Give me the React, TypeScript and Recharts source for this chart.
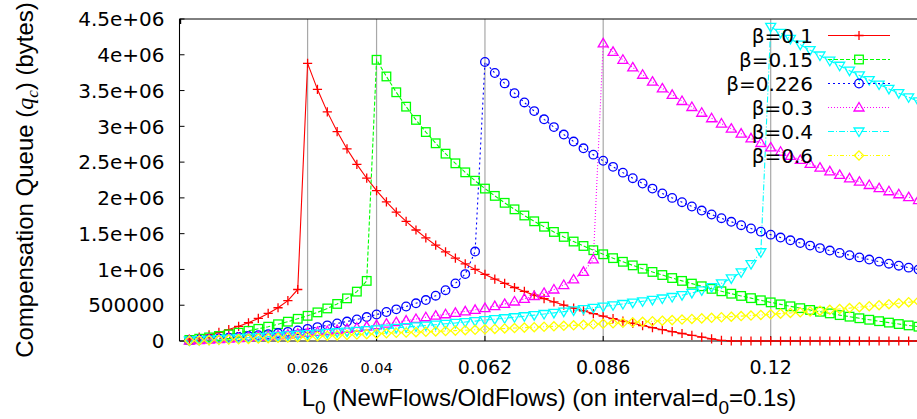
import React from 'react';
import { LineChart, Line, XAxis, YAxis, CartesianGrid, Legend } from 'recharts';

// L0 = new flows / old flows, sampled every 0.002
const loadRatio = [
  0.002, 0.004, 0.006, 0.008, 0.01, 0.012, 0.014, 0.016, 0.018, 0.02,
  0.022, 0.024, 0.026, 0.028, 0.03, 0.032, 0.034, 0.036, 0.038, 0.04,
  0.042, 0.044, 0.046, 0.048, 0.05, 0.052, 0.054, 0.056, 0.058, 0.06,
  0.062, 0.064, 0.066, 0.068, 0.07, 0.072, 0.074, 0.076, 0.078, 0.08,
  0.082, 0.084, 0.086, 0.088, 0.09, 0.092, 0.094, 0.096, 0.098, 0.1,
  0.102, 0.104, 0.106, 0.108, 0.11, 0.112, 0.114, 0.116, 0.118, 0.12,
  0.122, 0.124, 0.126, 0.128, 0.13, 0.132, 0.134, 0.136, 0.138, 0.14,
  0.142, 0.144, 0.146, 0.148, 0.15,
];

// Compensation queue q_c in bytes, one list per beta
const beta010 = [
  28000, 55000, 85000, 120000, 160000, 205000, 255000, 315000, 385000, 465000,
  565000, 720000, 3880000, 3517000, 3202000, 2927000, 2684000, 2468000, 2275000, 2101000,
  1944000, 1801000, 1671000, 1551000, 1441000, 1339000, 1245000, 1158000, 1077000, 1001000,
  930000, 865000, 806000, 748000, 693000, 641000, 592000, 546000, 502000, 460000,
  421000, 383000, 347000, 312000, 279000, 247000, 216000, 187000, 158000, 131000,
  105000, 80000, 55000, 30000, 8000, 0, 0, 0, 0, 0,
  0, 0, 0, 0, 0, 0, 0, 0, 0, 0,
  0, 0, 0, 0, 0,
];

const beta015 = [
  15000, 32000, 50000, 70000, 92000, 116000, 142000, 170000, 200000, 234000,
  270000, 310000, 352000, 400000, 455000, 518000, 596000, 690000, 840000, 3930000,
  3697000, 3476000, 3275000, 3090000, 2920000, 2763000, 2618000, 2483000, 2357000, 2240000,
  2130000, 2028000, 1931000, 1840000, 1754000, 1673000, 1597000, 1524000, 1455000, 1390000,
  1328000, 1269000, 1212000, 1158000, 1107000, 1057000, 1010000, 965000, 922000, 880000,
  840000, 802000, 765000, 729000, 695000, 661000, 630000, 599000, 569000, 540000,
  512000, 485000, 459000, 434000, 409000, 386000, 362000, 340000, 318000, 297000,
  277000, 257000, 237000, 218000, 200000,
];

const beta0226 = [
  8000, 17000, 26000, 36000, 46000, 57000, 69000, 82000, 96000, 111000,
  128000, 148000, 170000, 194000, 219000, 245000, 272000, 302000, 335000, 370000,
  405000, 442000, 482000, 527000, 572000, 633000, 710000, 805000, 935000, 1250000,
  3900000, 3745000, 3600000, 3463000, 3334000, 3213000, 3098000, 2989000, 2885000, 2787000,
  2693000, 2604000, 2519000, 2434000, 2353000, 2275000, 2201000, 2130000, 2063000, 2000000,
  1940000, 1880000, 1823000, 1768000, 1716000, 1666000, 1618000, 1572000, 1528000, 1486000,
  1446000, 1407000, 1369000, 1333000, 1298000, 1264000, 1231000, 1199000, 1168000, 1138000,
  1109000, 1080000, 1052000, 1025000, 999000,
];

const beta030 = [
  6000, 12000, 19000, 26000, 34000, 42000, 51000, 60000, 70000, 80000,
  91000, 102000, 114000, 127000, 140000, 154000, 169000, 185000, 202000, 222000,
  242000, 263000, 285000, 308000, 332000, 354000, 374000, 394000, 414000, 436000,
  459000, 487000, 518000, 552000, 589000, 629000, 672000, 720000, 782000, 860000,
  967000, 1140000, 4160000, 4041000, 3930000, 3823000, 3721000, 3624000, 3530000, 3440000,
  3354000, 3270000, 3190000, 3113000, 3039000, 2967000, 2898000, 2832000, 2767000, 2705000,
  2645000, 2586000, 2530000, 2475000, 2422000, 2371000, 2321000, 2273000, 2226000, 2180000,
  2136000, 2093000, 2051000, 2010000, 1970000,
];

const beta040 = [
  6000, 12000, 18000, 25000, 32000, 39000, 46000, 54000, 62000, 70000,
  78000, 86000, 95000, 104000, 113000, 122000, 132000, 142000, 152000, 162000,
  172000, 183000, 194000, 205000, 216000, 228000, 240000, 252000, 265000, 278000,
  292000, 305000, 318000, 332000, 346000, 361000, 377000, 393000, 410000, 428000,
  446000, 464000, 481000, 499000, 517000, 536000, 555000, 574000, 594000, 615000,
  640000, 672000, 708000, 752000, 806000, 875000, 960000, 1075000, 1240000, 4390000,
  4305000, 4222000, 4142000, 4065000, 3990000, 3917000, 3847000, 3778000, 3712000, 3647000,
  3584000, 3523000, 3464000, 3406000, 3350000,
];

const beta060 = [
  4000, 8000, 12000, 16000, 20000, 24000, 29000, 34000, 39000, 44000,
  49000, 54000, 60000, 66000, 72000, 78000, 84000, 90000, 96000, 102000,
  108000, 114000, 119000, 124000, 129000, 134000, 139000, 145000, 151000, 157000,
  163000, 169000, 175000, 181000, 187000, 193000, 199000, 205000, 212000, 219000,
  226000, 233000, 240000, 247000, 254000, 261000, 268000, 276000, 284000, 292000,
  300000, 308000, 316000, 324000, 332000, 340000, 348000, 356000, 364000, 373000,
  382000, 392000, 402000, 413000, 424000, 436000, 448000, 460000, 473000, 486000,
  500000, 514000, 528000, 542000, 556000,
];

const seriesNames = ['β=0.1', 'β=0.15', 'β=0.226', 'β=0.3', 'β=0.4', 'β=0.6'];

const xTicks = [0.026, 0.04, 0.062, 0.086, 0.12];
const xTickLabels = ['0.026', '0.04', '0.062', '0.086', '0.12'];
const yTicks = [0, 500000, 1000000, 1500000, 2000000, 2500000, 3000000, 3500000, 4000000, 4500000];
const yTickLabels = ['0', '500000', '1e+06', '1.5e+06', '2e+06', '2.5e+06', '3e+06', '3.5e+06', '4e+06', '4.5e+06'];

const rows = loadRatio.map((L, i) => ({
  L,
  b010: beta010[i],
  b015: beta015[i],
  b0226: beta0226[i],
  b030: beta030[i],
  b040: beta040[i],
  b060: beta060[i],
}));

type Shape = 'plus' | 'square' | 'circle' | 'triangleUp' | 'triangleDown' | 'diamond';

const SERIES_STYLE: { key: string; color: string; dash?: string; shape: Shape }[] = [
  { key: 'b010', color: '#ff0000', shape: 'plus' },
  { key: 'b015', color: '#00ff00', dash: '4 2', shape: 'square' },
  { key: 'b0226', color: '#0000ff', dash: '2 3', shape: 'circle' },
  { key: 'b030', color: '#ff00ff', dash: '1 2', shape: 'triangleUp' },
  { key: 'b040', color: '#00ffff', dash: '6 2 1 2', shape: 'triangleDown' },
  { key: 'b060', color: '#ffff00', dash: '4 2 1 2 1 2', shape: 'diamond' },
];

const SANS = '"Liberation Sans", Arial, sans-serif';
const TICK_FONT = '"DejaVu Sans", sans-serif';
const SMALL_X_TICKS = [0.026, 0.04];

function Marker({ shape, cx, cy, color }: { shape: Shape; cx: number; cy: number; color: string }) {
  const common = { fill: 'none', stroke: color, strokeWidth: 1.3, strokeDasharray: 'none' };
  switch (shape) {
    case 'plus':
      return <path d={`M${cx - 4.6} ${cy}H${cx + 4.6}M${cx} ${cy - 4.6}V${cy + 4.6}`} {...common} />;
    case 'square':
      return <rect x={cx - 4.3} y={cy - 4.3} width={8.6} height={8.6} {...common} />;
    case 'circle':
      return <circle cx={cx} cy={cy} r={4.3} {...common} />;
    case 'triangleUp':
      return <path d={`M${cx} ${cy - 5}L${cx + 5} ${cy + 3.5}L${cx - 5} ${cy + 3.5}Z`} {...common} />;
    case 'triangleDown':
      return <path d={`M${cx} ${cy + 5}L${cx + 5} ${cy - 3.5}L${cx - 5} ${cy - 3.5}Z`} {...common} />;
    default:
      return <path d={`M${cx} ${cy - 4.6}L${cx + 4.6} ${cy}L${cx} ${cy + 4.6}L${cx - 4.6} ${cy}Z`} {...common} />;
  }
}

function XTick(props: any) {
  const { x, y, payload } = props;
  const idx = xTicks.indexOf(payload.value);
  const small = SMALL_X_TICKS.includes(payload.value);
  return (
    <text
      x={x}
      y={y + (small ? 36.5 : 38)}
      textAnchor="middle"
      fontFamily={TICK_FONT}
      fontSize={small ? 14.5 : 19}
      fill="#000"
    >
      {idx >= 0 ? xTickLabels[idx] : String(payload.value)}
    </text>
  );
}

function YTick(props: any) {
  const { x, y, payload } = props;
  const idx = yTicks.indexOf(payload.value);
  return (
    <text x={x} y={y + 7.2} textAnchor="end" fontFamily={TICK_FONT} fontSize={20} fill="#000">
      {idx >= 0 ? yTickLabels[idx] : String(payload.value)}
    </text>
  );
}

const noLabel = () => <g />;

function Overlay() {
  return (
    <svg width={917} height={419} style={{ position: 'absolute', left: 0, top: 0, overflow: 'visible' }}>
      {SERIES_STYLE.map((s, i) => {
        const cy = 35.5 + i * 24;
        return (
          <g key={s.key}>
            <text x={813} y={cy + 7.5} textAnchor="end" fontFamily={TICK_FONT} fontSize={20} fill="#000">
              {seriesNames[i]}
            </text>
            <line x1={828} x2={890} y1={cy} y2={cy} stroke={s.color} strokeWidth={1.1} strokeDasharray={s.dash} />
            <Marker shape={s.shape} cx={859} cy={cy} color={s.color} />
          </g>
        );
      })}
      <text x={549} y={406} textAnchor="middle" fontFamily={SANS} fontSize={24} fill="#000">
        L<tspan dy={8} fontSize={19}>0</tspan>
        <tspan dy={-8}> (NewFlows/OldFlows) (on interval=d</tspan>
        <tspan dy={8} fontSize={19}>0</tspan>
        <tspan dy={-8}>=0.1s)</tspan>
      </text>
      <text
        transform="rotate(-90)"
        x={-180}
        y={33}
        textAnchor="middle"
        fontFamily={SANS}
        fontSize={24}
        fill="#000"
      >
        Compensation Queue (
        <tspan fontFamily='"Liberation Serif", serif' fontStyle="italic">q</tspan>
        <tspan fontFamily='"Liberation Serif", serif' fontStyle="italic" fontSize={17} dy={5}>c</tspan>
        <tspan dy={-5}>) (bytes)</tspan>
      </text>
    </svg>
  );
}

export default function App() {
  return (
    <div style={{ position: 'absolute', left: 0, top: 0, width: 917, height: 419, overflow: 'hidden', background: '#fff' }}>
      <LineChart width={938.5} height={419} data={rows} margin={{ top: 0, right: 0, bottom: 0, left: 0 }}>
        <CartesianGrid horizontal={false} vertical stroke="#a8a8a8" strokeWidth={1.2} />
        <XAxis
          dataKey="L"
          type="number"
          domain={[0, 0.15]}
          ticks={xTicks}
          interval={0}
          height={78}
          stroke="#000"
          tickSize={-5}
          tickMargin={0}
          tick={<XTick />}
        />
        <XAxis
          xAxisId="top"
          orientation="top"
          type="number"
          domain={[0, 0.15]}
          ticks={xTicks}
          interval={0}
          height={19}
          stroke="#000"
          tickSize={-5}
          tick={noLabel}
        />
        <YAxis
          type="number"
          domain={[0, 4500000]}
          ticks={yTicks}
          interval={0}
          width={179.5}
          stroke="#000"
          tickSize={-5}
          tickMargin={20}
          tick={<YTick />}
        />
        <YAxis
          yAxisId="right"
          orientation="right"
          type="number"
          domain={[0, 4500000]}
          ticks={yTicks}
          interval={0}
          width={20}
          stroke="#000"
          tickSize={-6}
          tick={noLabel}
        />
        {SERIES_STYLE.map((s, i) => (
          <Line
            key={s.key}
            dataKey={s.key}
            name={seriesNames[i]}
            type="linear"
            stroke={s.color}
            strokeWidth={1.1}
            strokeDasharray={s.dash}
            isAnimationActive={false}
            activeDot={false}
            dot={(p: any) => (
              <Marker key={`${s.key}-${p.index}`} shape={s.shape} cx={p.cx} cy={p.cy} color={s.color} />
            )}
          />
        ))}
        <Legend
          layout="vertical"
          align="center"
          verticalAlign="middle"
          wrapperStyle={{ left: 0, top: 0, width: 917, height: 419, pointerEvents: 'none' }}
          content={() => <Overlay />}
        />
      </LineChart>
    </div>
  );
}
